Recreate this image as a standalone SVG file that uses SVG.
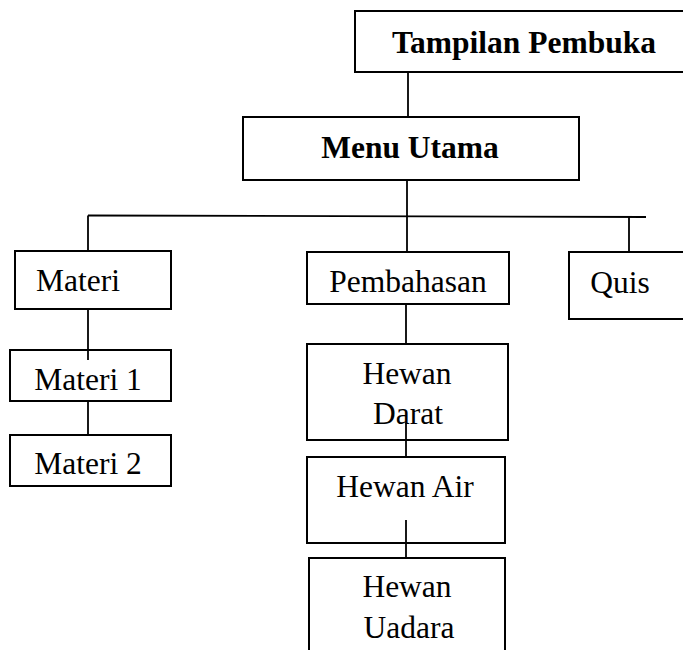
<svg xmlns="http://www.w3.org/2000/svg" width="683" height="650" viewBox="0 0 683 650">
<style>
.box{fill:#fff;stroke:#000;stroke-width:2}
.ln{stroke:#000;stroke-width:1.8;fill:none}
.t{font-family:"Liberation Serif","Times New Roman",serif;font-size:31.5px;fill:#000;text-anchor:middle}
.b{font-weight:bold}
</style>
<rect width="683" height="650" fill="#fff"/>
<g id="tampilan-pembuka"><rect class="box" x="355" y="11" width="340" height="61"/><text class="t b" x="524" y="53">Tampilan Pembuka</text></g>
<g id="menu-utama"><rect class="box" x="243" y="117" width="336" height="63"/><text class="t b" x="410" y="158">Menu Utama</text></g>
<g id="materi"><rect class="box" x="15" y="251" width="156" height="58"/><text class="t" x="36" y="291" style="text-anchor:start">Materi</text></g>
<g id="pembahasan"><rect class="box" x="307" y="252" width="202" height="52"/><text class="t" x="408" y="292">Pembahasan</text></g>
<g id="quis"><rect class="box" x="569" y="252" width="130" height="67"/><text class="t" x="620" y="293">Quis</text></g>
<g id="materi-1"><rect class="box" x="10" y="350" width="161" height="51"/><text class="t" x="88" y="390">Materi 1</text></g>
<g id="materi-2"><rect class="box" x="10" y="435" width="161" height="51"/><text class="t" x="88" y="474">Materi 2</text></g>
<g id="hewan-darat"><rect class="box" x="307" y="344" width="201" height="96"/><text class="t" x="407" y="384">Hewan</text><text class="t" x="408" y="424">Darat</text></g>
<g id="hewan-air"><rect class="box" x="307" y="457" width="198" height="86"/><text class="t" x="405" y="497">Hewan Air</text></g>
<g id="hewan-uadara"><rect class="box" x="309" y="558" width="196" height="110"/><text class="t" x="407" y="597">Hewan</text><text class="t" x="409" y="638">Uadara</text></g>
<g id="connectors">
<line class="ln" x1="408" y1="72" x2="408" y2="117"/>
<line class="ln" x1="407" y1="180" x2="407" y2="252"/>
<line class="ln" x1="88" y1="215.5" x2="646" y2="217"/>
<line class="ln" x1="88" y1="215.5" x2="88" y2="251"/>
<line class="ln" x1="629" y1="216.5" x2="629" y2="252"/>
<line class="ln" x1="88" y1="309" x2="88" y2="360"/>
<line class="ln" x1="88" y1="401" x2="88" y2="435"/>
<line class="ln" x1="406" y1="304" x2="406" y2="344"/>
<line class="ln" x1="406" y1="423" x2="406" y2="457"/>
<line class="ln" x1="406" y1="520" x2="406" y2="558"/>
</g>
</svg>
